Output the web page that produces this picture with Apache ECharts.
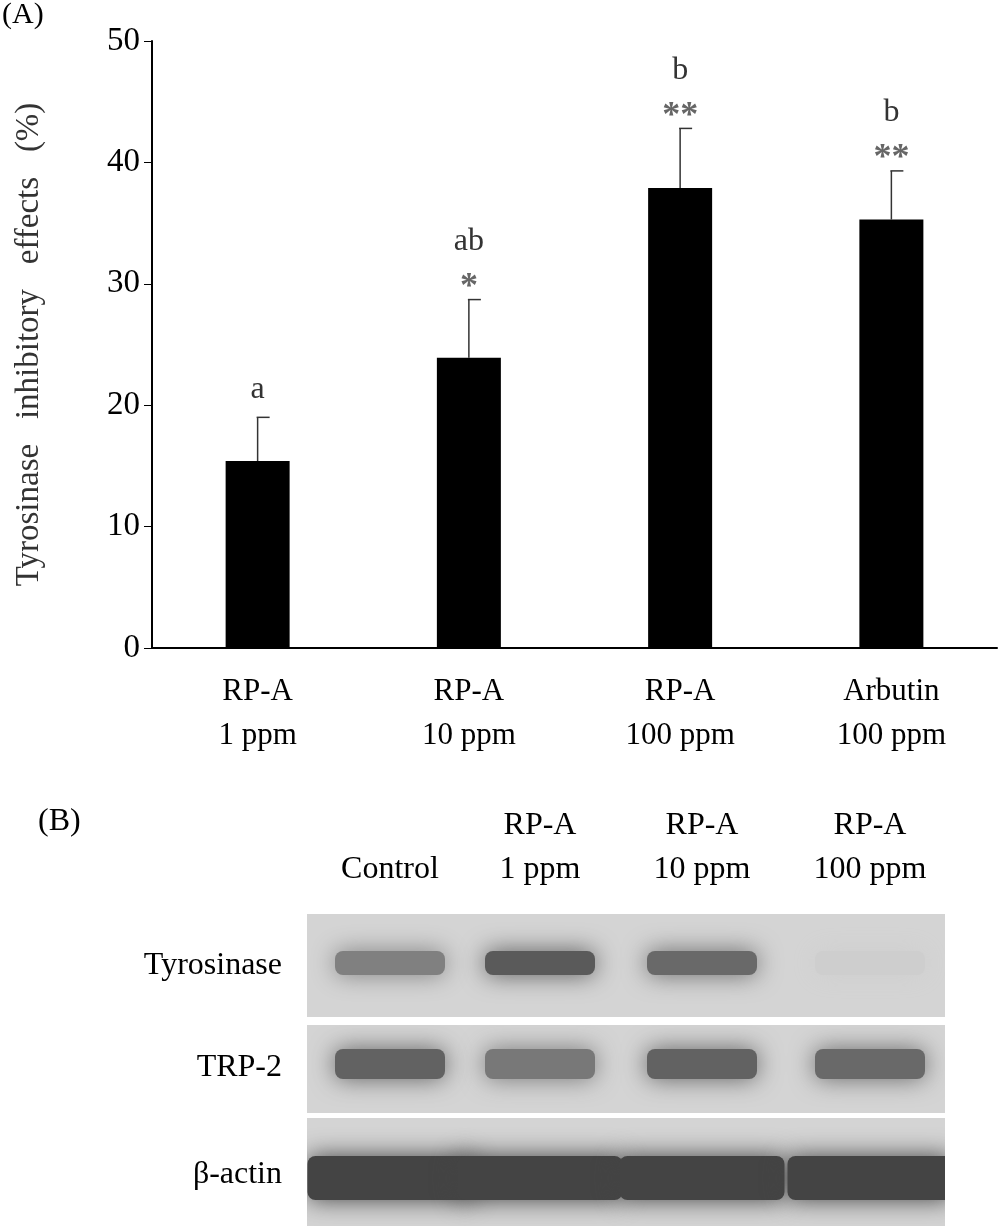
<!DOCTYPE html>
<html><head><meta charset="utf-8">
<script src="https://cdn.jsdelivr.net/npm/echarts@6/dist/echarts.min.js"></script>
<style>html,body{margin:0;padding:0;background:#fff}#c{width:1000px;height:1226px}</style>
</head><body><div id="c"></div>
<script>
const categories = ['RP-A\n1 ppm','RP-A\n10 ppm','RP-A\n100 ppm','Arbutin\n100 ppm'];
const values = [15.4, 23.9, 37.9, 35.3];
const errorTops = [19.0, 28.7, 42.8, 39.3];
const stars = ['', '*', '**', '**'];
const letters = ['a', 'ab', 'b', 'b'];
const yTicks = [0,10,20,30,40,50];
const blotLanes = ['Control','RP-A\n1 ppm','RP-A\n10 ppm','RP-A\n100 ppm'];
const blotRows = ['Tyrosinase','TRP-2','β-actin'];
const tyrBand = [0.55, 0.8, 0.7, 0.03];
const trpBand = [0.75, 0.6, 0.75, 0.7];
const actinBand = [0.95, 0.95, 0.95, 0.95];

const font = 'Liberation Serif';
const chart = echarts.init(document.getElementById('c'));

const g = [];
g.push({type:'text',left:2,top:0,style:{text:'(A)',font:'30px '+font,fill:'#000'}});
g.push({type:'text',left:38,top:806,style:{text:'(B)',font:'32px '+font,fill:'#000'}});
const laneX = [390, 540, 702, 870];
blotLanes.forEach((t,i)=>{
  g.push({type:'text',x:laneX[i],y:892,style:{text:t,font:'32px '+font,fill:'#000',align:'center',verticalAlign:'bottom',lineHeight:44}});
});
const panels = [{y:914,h:103,band:tyrBand,by:963,bh:24},{y:1025,h:88,band:trpBand,by:1064,bh:30},{y:1118,h:108,band:actinBand,by:1178,bh:44}];
const rowLabelY = [966, 1068, 1175];
blotRows.forEach((t,i)=>{
  g.push({type:'text',x:282,y:rowLabelY[i],style:{text:t,font:'32px '+font,fill:'#000',align:'right',verticalAlign:'middle'}});
  const p = panels[i];
  const children = [{type:'rect',shape:{x:0,y:0,width:638,height:p.h},style:{fill:'#d4d4d4'}}];
  p.band.forEach((a,j)=>{
    const w = i===2 ? 165 : 110;
    const c = Math.round(210 - 150*a);
    children.push({type:'rect',shape:{x:laneX[j]-307-w/2,y:p.by-p.y-p.bh/2,width:w,height:p.bh,r:8},
      style:{fill:`rgb(${c},${c},${c})`,shadowBlur:24,shadowColor:`rgba(${c},${c},${c},1)`}});
  });
  g.push({type:'group',x:307,y:p.y,clipPath:{type:'rect',shape:{x:0,y:0,width:638,height:p.h}},children});
});

chart.setOption({
  animation:false,
  grid:{left:152,right:3,top:41,height:607,containLabel:false},
  xAxis:{type:'category',data:categories,axisLine:{lineStyle:{color:'#000',width:2}},axisTick:{show:false},
    axisLabel:{color:'#000',fontFamily:font,fontSize:31,lineHeight:44,margin:22}},
  yAxis:{type:'value',min:0,max:50,interval:10,name:'Tyrosinase   inhibitory   effects   (%)',nameLocation:'middle',nameGap:106,
    nameTextStyle:{color:'#333',fontFamily:font,fontSize:33},
    axisLine:{show:true,lineStyle:{color:'#000',width:2}},axisTick:{show:true,length:8,lineStyle:{color:'#000'}},
    splitLine:{show:false},axisLabel:{color:'#000',fontFamily:font,fontSize:33,margin:12}},
  series:[
    {type:'bar',data:values,barWidth:64,itemStyle:{color:'#000'}},
    {type:'custom',data:errorTops.map((e,i)=>[i,values[i],e]),
      renderItem:(params,api)=>{
        const p0 = api.coord([api.value(0),api.value(1)]);
        const p1 = api.coord([api.value(0),api.value(2)]);
        const i = params.dataIndex;
        const kids = [
          {type:'line',shape:{x1:p0[0],y1:p0[1],x2:p1[0],y2:p1[1]},style:{stroke:'#333',lineWidth:1.5}},
          {type:'line',shape:{x1:p0[0]-1,y1:p1[1],x2:p0[0]+12,y2:p1[1]},style:{stroke:'#333',lineWidth:1.5}}
        ];
        let y = p1[1]-12;
        if (stars[i]) { kids.push({type:'text',x:p0[0],y:y+18,style:{text:stars[i],font:'bold 36px '+font,fill:'#666',align:'center',verticalAlign:'bottom'}}); y -= 30; }
        kids.push({type:'text',x:p0[0],y:y,style:{text:letters[i],font:'32px '+font,fill:'#333',align:'center',verticalAlign:'bottom'}});
        return {type:'group',children:kids};
      }}
  ],
  graphic:g
});
</script></body></html>
